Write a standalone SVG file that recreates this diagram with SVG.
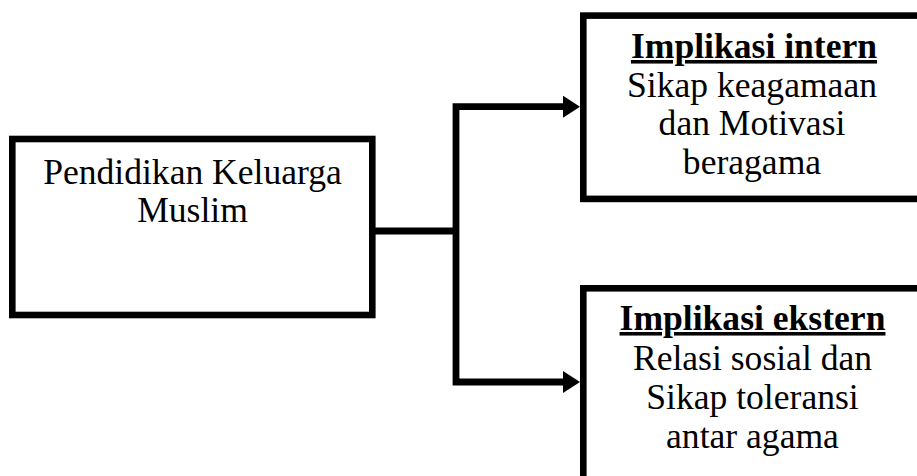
<svg xmlns="http://www.w3.org/2000/svg" width="917" height="476" viewBox="0 0 917 476">
<style>
.box{fill:#fff;stroke:#000;stroke-width:6.6}
.t{font-family:"Liberation Serif","Times New Roman",serif;font-size:35.6px;fill:#000;text-anchor:middle}
.b{font-weight:bold;text-decoration:underline}
.c{fill:none;stroke:#000;stroke-width:6.8;stroke-linejoin:miter}
</style>
<defs>
<marker id="ah" markerUnits="userSpaceOnUse" markerWidth="19" markerHeight="22" refX="2" refY="11" orient="auto" viewBox="0 0 19 22">
<path d="M0,0 L17,11 L0,22 z" fill="#000"/>
</marker>
</defs>
<rect width="917" height="476" fill="#fff"/>
<g id="connectors">
<path class="c" d="M375 231 H456"/>
<path class="c" d="M456 231 V106.7 H565" marker-end="url(#ah)"/>
<path class="c" d="M456 231 V382 H565" marker-end="url(#ah)"/>
</g>
<g id="node-pendidikan">
<rect class="box" x="12.3" y="139" width="360" height="176"/>
<text class="t" x="192.5" y="183.5">Pendidikan Keluarga</text>
<text class="t" x="192.5" y="222">Muslim</text>
</g>
<g id="node-intern">
<rect class="box" x="583.3" y="15.6" width="345" height="183.3"/>
<text class="t b" x="754" y="58">Implikasi intern</text>
<text class="t" x="752" y="96.7">Sikap keagamaan</text>
<text class="t" x="752" y="135">dan Motivasi</text>
<text class="t" x="752" y="173.5">beragama</text>
</g>
<g id="node-ekstern">
<rect class="box" x="583.3" y="288.3" width="345" height="200"/>
<text class="t b" x="752.5" y="330">Implikasi ekstern</text>
<text class="t" x="752.5" y="370">Relasi sosial dan</text>
<text class="t" x="752.5" y="408.5">Sikap toleransi</text>
<text class="t" x="752.5" y="448">antar agama</text>
</g>
</svg>
